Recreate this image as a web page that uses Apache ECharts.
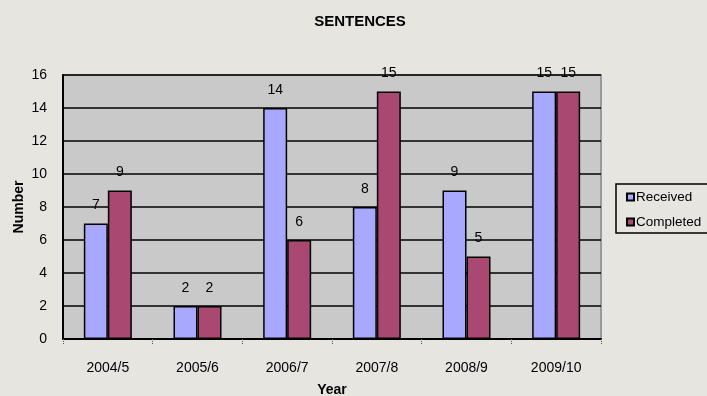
<!DOCTYPE html>
<html>
<head>
<meta charset="utf-8">
<script src="https://cdn.jsdelivr.net/npm/echarts@6/dist/echarts.min.js"></script>
<style>
html,body{margin:0;padding:0;background:#e6e5e0;}
#c{width:707px;height:396px;}
</style>
</head>
<body>
<div id="c"></div>
<script>
const categories = ['2004/5','2005/6','2006/7','2007/8','2008/9','2009/10'];
const received = [7, 2, 14, 8, 9, 15];
const completed = [9, 2, 6, 15, 5, 15];
const seriesNames = ['Received', 'Completed'];

const chart = echarts.init(document.getElementById('c'));
const font = 'Liberation Sans, Arial, sans-serif';
const labelCfg = {show: true, position: 'top', distance: 11, color: '#000', fontSize: 14, fontFamily: font};
chart.setOption({
  backgroundColor: '#e6e5e0',
  animation: false,
  title: {
    text: 'SENTENCES', left: 355, top: 9, textAlign: 'center',
    textStyle: {fontSize: 15, fontWeight: 'bold', color: '#000', fontFamily: font}
  },
  legend: {
    orient: 'vertical', left: 616, top: 184,
    padding: [6, 8, 4, 10], itemGap: 11,
    itemWidth: 7, itemHeight: 7, icon: 'rect',
    borderColor: '#000', borderWidth: 1.5,
    textStyle: {fontSize: 13.5, color: '#000', fontFamily: font, padding: [0, 0, 0, -3]},
    data: seriesNames
  },
  grid: {
    left: 63, right: 106, top: 75, bottom: 57,
    outerBoundsMode: 'none', containLabel: false,
    show: true, backgroundColor: '#c9c9c9', borderColor: '#999', borderWidth: 2
  },
  xAxis: {
    type: 'category', data: categories,
    name: 'Year', nameLocation: 'middle', nameGap: 44,
    nameTextStyle: {fontSize: 14, fontWeight: 'bold', color: '#000', fontFamily: font},
    axisLine: {lineStyle: {color: '#000', width: 2}},
    axisTick: {show: true, length: 6, lineStyle: {color: '#555', width: 1, type: 'dotted'}},
    axisLabel: {margin: 22, fontSize: 14, color: '#000', fontFamily: font}
  },
  yAxis: {
    type: 'value', min: 0, max: 16, interval: 2,
    name: 'Number', nameLocation: 'middle', nameGap: 37, nameRotate: 90,
    nameMoveOverlap: false,
    nameTextStyle: {fontSize: 14, fontWeight: 'bold', color: '#000', fontFamily: font},
    axisLine: {show: true, lineStyle: {color: '#000', width: 2}},
    axisTick: {show: false},
    axisLabel: {margin: 16, fontSize: 14, color: '#000', fontFamily: font},
    splitLine: {lineStyle: {color: '#000', width: 1.5}}
  },
  series: [
    {name: seriesNames[0], type: 'bar', data: received, barWidth: 24, barGap: '0%',
     itemStyle: {color: '#a8a8fe', borderColor: '#000', borderWidth: 1.5}, label: labelCfg},
    {name: seriesNames[1], type: 'bar', data: completed, barWidth: 24, barGap: '0%',
     itemStyle: {color: '#a94871', borderColor: '#000', borderWidth: 1.5}, label: labelCfg}
  ]
});
</script>
</body>
</html>
